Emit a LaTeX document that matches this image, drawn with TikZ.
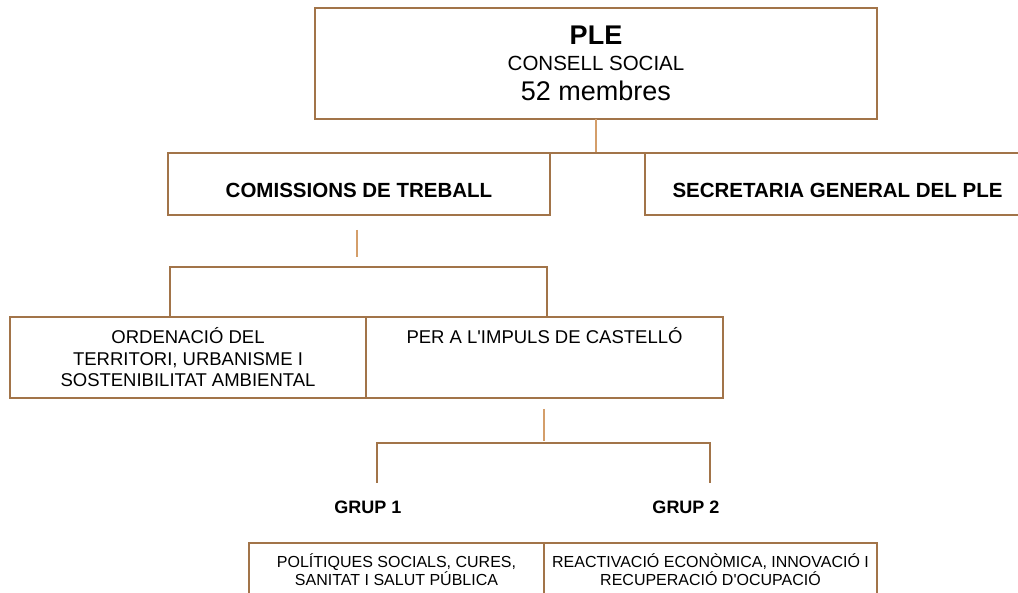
\documentclass[tikz,border=0pt]{standalone}
\usepackage{fontspec}
\setmainfont{Liberation Sans}
\definecolor{boxbrown}{HTML}{A27449}
\definecolor{linetan}{HTML}{D49E6A}
\begin{document}
\begin{tikzpicture}[x=1pt,y=-1pt,
  box/.style={draw=boxbrown,line width=2pt,fill=white,rectangle,inner sep=0pt,outer sep=0pt,align=center},
  conn/.style={draw=linetan,line width=1.6pt},
  thickconn/.style={draw=linetan,line width=2.6pt},
  brk/.style={draw=boxbrown,line width=2pt},
  grp/.style={font=\bfseries\fontsize{18}{21}\selectfont},
  head/.style={font=\bfseries\fontsize{20.5}{24}\selectfont,text height=27pt,text depth=0pt}]
\useasboundingbox (0,0) rectangle (1018,593);
\clip (0,0) rectangle (1018,593);
% top
\node[box,minimum width=562pt,minimum height=111pt,font=\fontsize{20}{28}\selectfont] (ple) at (596,63.5)
  {{\bfseries\fontsize{27}{28}\selectfont PLE}\\[-1.5pt]
   {\fontsize{20.5}{28}\selectfont CONSELL SOCIAL}\\[2pt]
   {\fontsize{27}{28}\selectfont 52 membres}};
\node[box,head,minimum width=382pt,minimum height=62pt] (com) at (359,184) {COMISSIONS DE TREBALL};
\node[box,head,minimum width=385pt,minimum height=62pt,anchor=north west] (sec) at (645,153) {SECRETARIA GENERAL DEL PLE};
\draw[conn] (ple.south) -- (ple.south |- com.north);
\draw[brk] (com.north east) -- (sec.north west);
% comissions
\coordinate (c1) at (357,230);
\coordinate (c2) at (357,257);
\draw[thickconn] (c1) -- (c2);
\node[box,minimum width=356pt,minimum height=81pt,font=\fontsize{18.5}{21.5}\selectfont] (ord) at (188,357.5)
  {ORDENACIÓ DEL\\TERRITORI, URBANISME I\\SOSTENIBILITAT AMBIENTAL};
\node[box,minimum width=357pt,minimum height=81pt,font=\fontsize{18.5}{21.5}\selectfont,text height=13pt,text depth=41pt] (imp) at (544.5,357.5)
  {PER A L\textquotesingle IMPULS DE CASTELLÓ};
\coordinate (b1) at (170,267);
\coordinate (b2) at (547,267);
\draw[brk] (b1 |- ord.north) -- (b1) -- (b2) -- (b2 |- imp.north);
% grups
\coordinate (g1) at (544,409);
\coordinate (g2) at (544,441);
\draw[thickconn] (g1) -- (g2);
\node[grp] (gr1) at (368,507) {GRUP 1};
\node[grp] (gr2) at (686,507) {GRUP 2};
\coordinate (h1) at (377,443);
\coordinate (h2) at (710,443);
\coordinate (h3) at (377,483);
\coordinate (h4) at (710,483);
\draw[brk] (h3) -- (h1) -- (h2) -- (h4);
% bottom boxes
\node[box,minimum width=295pt,minimum height=53pt,anchor=north west,font=\fontsize{16}{17.5}\selectfont] (pol) at (249,543)
  {POLÍTIQUES SOCIALS, CURES,\\SANITAT I SALUT PÚBLICA};
\node[box,minimum width=333pt,minimum height=53pt,anchor=north west,font=\fontsize{16}{17.5}\selectfont] (rea) at (544,543)
  {REACTIVACIÓ ECONÒMICA, INNOVACIÓ I\\RECUPERACIÓ D\textquotesingle OCUPACIÓ};
\end{tikzpicture}
\end{document}
